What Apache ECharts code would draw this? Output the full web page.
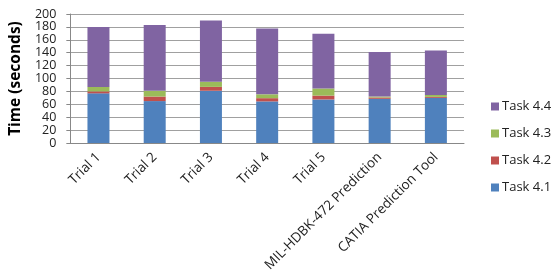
<!DOCTYPE html>
<html>
<head>
<meta charset="utf-8">
<script src="https://cdn.jsdelivr.net/npm/echarts@6/dist/echarts.min.js"></script>
<style>
  html, body { margin: 0; padding: 0; background: #fff; }
  #chart { width: 558px; height: 275px; }
</style>
</head>
<body>
<div id="chart"></div>
<script>
var categories = ["Trial 1", "Trial 2", "Trial 3", "Trial 4", "Trial 5", "MIL-HDBK-472 Prediction", "CATIA Prediction Tool"];
var task41 = [77, 65, 81, 64.5, 67.5, 68.5, 70];
var task42 = [3, 7, 6, 5, 6, 2, 1.5];
var task43 = [7, 9, 8, 6, 11, 1.5, 3];
var task44 = [93, 102, 95, 102, 85, 69, 69];
var yTicks = { min: 0, max: 200, interval: 20 };

var dom = document.getElementById("chart");
var myChart = echarts.init(dom, null, { renderer: "canvas" });

var font = "Open Sans, Liberation Sans, sans-serif";

function bar(name, data, color) {
  return {
    name: name,
    type: "bar",
    stack: "t",
    data: data,
    barWidth: 22,
    itemStyle: { color: color },
  };
}

var option = {
  animation: false,
  grid: { left: 67, right: 94, top: 14, bottom: 132 },
  legend: {
    orient: "vertical",
    left: 486,
    top: 95,
    itemWidth: 8,
    itemHeight: 8,
    itemGap: 14,
    icon: "rect",
    data: ["Task 4.4", "Task 4.3", "Task 4.2", "Task 4.1"],
    textStyle: { fontFamily: font, fontSize: 13, color: "#222", padding: [0, 0, 0, -2] },
  },
  xAxis: {
    type: "category",
    data: categories,
    axisLine: { lineStyle: { color: "#888" } },
    axisTick: { lineStyle: { color: "#888" }, length: 5 },
    axisLabel: {
      rotate: 45,
      interval: 0,
      fontFamily: font,
      fontSize: 13.5,
      color: "#222",
      margin: 12,
    },
  },
  yAxis: {
    type: "value",
    min: yTicks.min,
    max: yTicks.max,
    interval: yTicks.interval,
    name: "Time (seconds)",
    nameLocation: "middle",
    nameGap: 46,
    nameTextStyle: { fontFamily: font, fontSize: 15.5, fontWeight: "bold", color: "#000" },
    axisLine: { show: true, lineStyle: { color: "#888" } },
    axisTick: { show: true, inside: false, length: 4, lineStyle: { color: "#888" } },
    axisLabel: {
      fontFamily: font,
      fontSize: 12.5,
      lineHeight: 12,
      color: "#222",
      margin: 14,
    },
    splitLine: { lineStyle: { color: "#a0a0a0" } },
  },
  series: [
    bar("Task 4.1", task41, "#4F81BD"),
    bar("Task 4.2", task42, "#C0504D"),
    bar("Task 4.3", task43, "#9BBB59"),
    bar("Task 4.4", task44, "#8064A2"),
  ],
};

myChart.setOption(option);
window.addEventListener("resize", myChart.resize);
</script>
</body>
</html>
